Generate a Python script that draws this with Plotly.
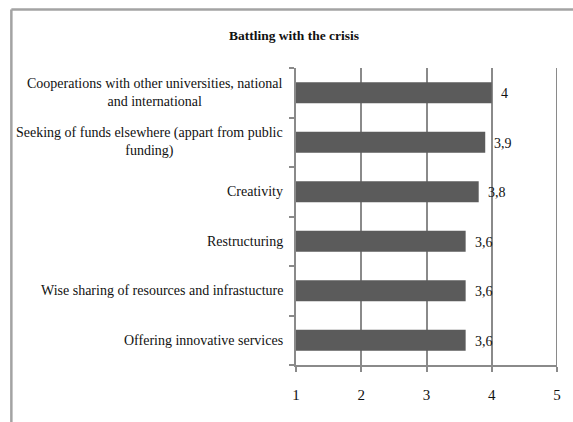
import plotly.graph_objects as go

# Survey results: average score per strategy (scale 1-5)
categories = [
    "Cooperations with other universities, national<br>and international",
    "Seeking of funds elsewhere (appart from public<br>funding)",
    "Creativity",
    "Restructuring",
    "Wise sharing of resources and infrastucture",
    "Offering innovative services",
]
scores = [4.0, 3.9, 3.8, 3.6, 3.6, 3.6]
score_labels = ["4", "3,9", "3,8", "3,6", "3,6", "3,6"]
x_ticks = [1, 2, 3, 4, 5]

FONT = "Liberation Serif, Times New Roman, serif"
BAR = "#5b5b5b"
GRID = "#8a8a8a"
FRAME = "#a3a3a3"

W, H = 573, 422
L, R, T, B = 296, 12, 68, 57

fig = go.Figure()
fig.add_trace(go.Bar(
    y=categories,
    x=scores,
    base=0,
    orientation="h",
    marker=dict(color=BAR, line=dict(width=0)),
    width=0.42,
    hoverinfo="skip",
))

annotations = []
# category labels, centred lines, right-aligned block
for cat in categories:
    annotations.append(dict(
        x=0, xref="paper", y=cat, yref="y",
        text=cat, showarrow=False, xanchor="right", yanchor="middle",
        align="center", xshift=-11,
        font=dict(family=FONT, size=14, color="#111111"),
    ))
# value labels beside each bar
for cat, v, lab in zip(categories, scores, score_labels):
    annotations.append(dict(
        x=v, xref="x", y=cat, yref="y",
        text=lab, showarrow=False, xanchor="left", yanchor="middle",
        xshift=7, yshift=-1,
        font=dict(family=FONT, size=14, color="#111111"),
    ))

# outer frame (top and left edges)
pw = W - L - R
ph = H - T - B
fx0 = (7 - L) / pw
fy0 = 1 + (T - 9.5) / ph
shapes = [
    dict(type="line", xref="paper", yref="paper", x0=fx0, x1=(W + 5 - L) / pw,
         y0=fy0, y1=fy0, line=dict(color=FRAME, width=2.5)),
    dict(type="line", xref="paper", yref="paper", x0=fx0, x1=fx0,
         y0=fy0, y1=-(B + 5) / ph, line=dict(color=FRAME, width=2.5)),
    # right-hand gridline at 5
    dict(type="line", xref="x", yref="paper", x0=5, x1=5, y0=0, y1=1,
         line=dict(color=GRID, width=2)),
]

fig.update_layout(
    width=W, height=H,
    margin=dict(l=L, r=R, t=T, b=B),
    paper_bgcolor="white", plot_bgcolor="white",
    showlegend=False,
    bargap=0.58,
    title=dict(
        text="<b>Battling with the crisis</b>",
        x=(294) / W, xanchor="center", y=1 - 35 / H, yanchor="middle",
        font=dict(family=FONT, size=13.5, color="#111111"),
    ),
    xaxis=dict(
        range=[1, 5], tickvals=x_ticks, ticktext=[str(t) for t in x_ticks],
        showgrid=True, gridcolor=GRID, gridwidth=2,
        showline=True, linecolor=GRID, linewidth=2,
        ticks="outside", ticklen=5, tickwidth=2, tickcolor=GRID,
        ticklabelstandoff=10,
        tickfont=dict(family=FONT, size=15, color="#111111"),
        zeroline=False, fixedrange=True,
    ),
    yaxis=dict(
        type="category", categoryorder="array", categoryarray=categories[::-1],
        autorange=False, range=[-0.5, 5.5],
        showticklabels=False, showgrid=False,
        showline=True, linecolor=GRID, linewidth=2,
        ticks="outside", ticklen=5, tickwidth=2, tickcolor=GRID,
        tickson="boundaries",
        zeroline=False, fixedrange=True,
    ),
    annotations=annotations,
    shapes=shapes,
)

fig.write_html("out.html")
